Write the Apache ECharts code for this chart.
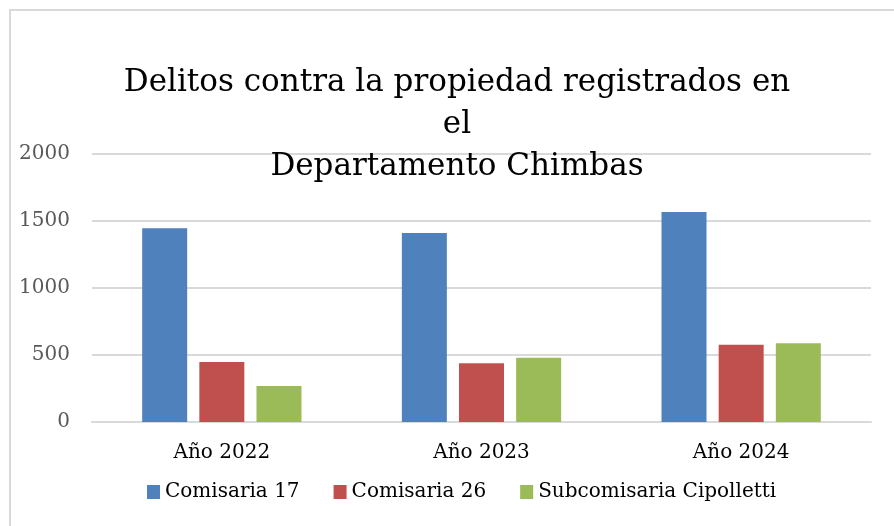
<!DOCTYPE html>
<html>
<head>
<meta charset="utf-8">
<script src="https://cdn.jsdelivr.net/npm/echarts@6/dist/echarts.min.js"></script>
<style>
  html, body { margin: 0; padding: 0; background: #fff; }
  #chart { width: 894px; height: 526px; }
</style>
</head>
<body>
<div id="chart"></div>
<script>
let categories = ['Año 2022', 'Año 2023', 'Año 2024'];
let comisaria17 = [1445, 1410, 1567];
let comisaria26 = [448, 438, 577];
let subcomisaria = [269, 480, 587];
let yTicks = [0, 500, 1000, 1500, 2000];

let font = 'DejaVu Serif';
let chart = echarts.init(document.getElementById('chart'));

let option = {
  animation: false,
  backgroundColor: '#fff',
  graphic: [{
    type: 'rect',
    z: -1,
    shape: { x: 10, y: 10, width: 900, height: 540 },
    style: { fill: '#fff', stroke: '#d9d9d9', lineWidth: 2 }
  }],
  title: {
    text: 'Delitos contra la propiedad registrados en\nel\nDepartamento Chimbas',
    left: 452,
    textAlign: 'center',
    top: 57,
    textStyle: {
      fontFamily: font,
      fontWeight: 'normal',
      fontSize: 31,
      lineHeight: 42,
      color: '#000'
    }
  },
  legend: {
    bottom: 19,
    left: 142,
    itemWidth: 13,
    itemHeight: 14,
    itemGap: 34,
    icon: 'rect',
    textStyle: { fontFamily: font, fontSize: 20, color: '#000' },
    data: ['Comisaria 17', 'Comisaria 26', 'Subcomisaria Cipolletti']
  },
  grid: { left: 92, right: 23, top: 154, bottom: 104 },
  xAxis: {
    type: 'category',
    data: categories,
    axisTick: { show: false },
    axisLine: { lineStyle: { color: '#d9d9d9', width: 2 } },
    axisLabel: { margin: 21, fontFamily: font, fontSize: 20, color: '#000' }
  },
  yAxis: {
    type: 'value',
    min: yTicks[0],
    max: yTicks[yTicks.length - 1],
    interval: 500,
    axisLine: { show: false },
    axisTick: { show: false },
    splitLine: { lineStyle: { color: '#d9d9d9', width: 2 } },
    axisLabel: {
      margin: 22, fontFamily: font, fontSize: 20, color: '#595959',
      formatter: function (v) { return String(v); }
    }
  },
  series: [
    {
      name: 'Comisaria 17', type: 'bar', data: comisaria17,
      barWidth: 45, barGap: '27%',
      itemStyle: { color: '#4F81BD' }
    },
    {
      name: 'Comisaria 26', type: 'bar', data: comisaria26,
      barWidth: 45, barGap: '27%',
      itemStyle: { color: '#C0504D' }
    },
    {
      name: 'Subcomisaria Cipolletti', type: 'bar', data: subcomisaria,
      barWidth: 45, barGap: '27%',
      itemStyle: { color: '#9BBB59' }
    }
  ]
};

chart.setOption(option);
</script>
</body>
</html>
